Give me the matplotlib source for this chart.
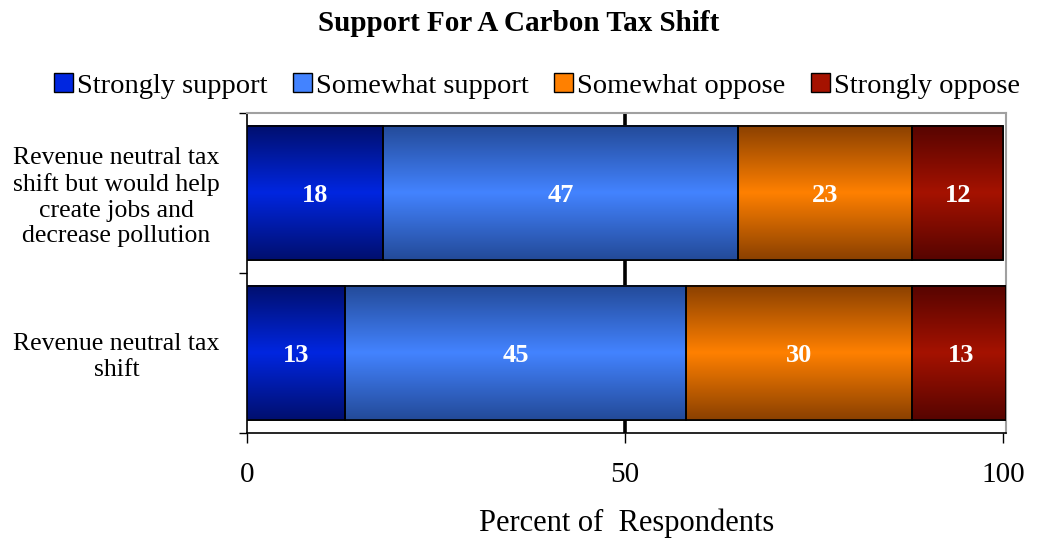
import numpy as np
import matplotlib
matplotlib.use("Agg")
import matplotlib.pyplot as plt
from matplotlib.colors import LinearSegmentedColormap
from matplotlib.patches import Patch

plt.rcParams["font.family"] = ["Liberation Serif", "DejaVu Serif"]

categories = ["Revenue neutral tax\nshift", "Revenue neutral tax\nshift but would help\ncreate jobs and\ndecrease pollution"]
series = ["Strongly support", "Somewhat support", "Somewhat oppose", "Strongly oppose"]
strongly_support = [13, 18]
somewhat_support = [45, 47]
somewhat_oppose = [30, 23]
strongly_oppose = [13, 12]
values = [strongly_support, somewhat_support, somewhat_oppose, strongly_oppose]

# (edge shade, middle shade) for the vertical gradient
shades = [("#000f6e", "#0026e0"), ("#234a98", "#4383ff"),
          ("#8a4000", "#ff8000"), ("#560400", "#a51200")]

XMAX = 100.4

fig = plt.figure(figsize=(10.37, 5.38), dpi=100)
ax = fig.add_axes([0.2382, 0.1952, 0.732, 0.595])

y = np.arange(len(categories))
bar_h = 0.84
left = np.zeros(len(categories))
grad = np.linspace(0, 1, 256).reshape(-1, 1)
for vals, (dark, mid), name in zip(values, shades, series):
    cmap = LinearSegmentedColormap.from_list(name, [dark, mid, dark])
    widths = np.minimum(left + np.array(vals), XMAX) - left
    bars = ax.barh(y, widths, left=left, height=bar_h, color=mid,
                   edgecolor="black", linewidth=1.2, zorder=3, label=name)
    for b, v, l in zip(bars, vals, left):
        x0, y0 = b.get_x(), b.get_y()
        ax.imshow(grad, cmap=cmap, aspect="auto", zorder=3.5,
                  extent=[x0, x0 + b.get_width(), y0, y0 + b.get_height()],
                  interpolation="bilinear")
        ax.add_patch(plt.Rectangle((x0, y0), b.get_width(), b.get_height(), fill=False,
                                   edgecolor="black", linewidth=1.2, zorder=4))
        ax.text(l + v / 2, y0 + b.get_height() / 2, str(v), color="white",
                ha="center", va="center_baseline", fontsize=19, fontweight="bold", zorder=5)
    left = left + np.array(vals)

ax.axvline(50, color="black", linewidth=2.6, zorder=1)

ax.set_xlim(0, XMAX)
ax.set_ylim(-0.5, len(categories) - 0.5)
ax.set_xticks([0, 50, 100])
ax.tick_params(axis="x", length=7, width=1, labelsize=21, pad=14, direction="out")
ax.set_yticks(y)
ax.set_yticklabels(categories, fontsize=18.5, linespacing=1.22, ha="center")
ax.tick_params(axis="y", length=0, pad=94)
ax.set_yticks([-0.5, 0.5, 1.5], minor=True)
ax.tick_params(axis="y", which="minor", length=6, width=1)
ax.set_xlabel("Percent of  Respondents", fontsize=22, labelpad=15)

for s in ["top", "right"]:
    ax.spines[s].set_color("#a0a0a0")
    ax.spines[s].set_linewidth(1.5)
for s in ["left", "bottom"]:
    ax.spines[s].set_color("black")
    ax.spines[s].set_linewidth(1.2)

handles = [Patch(facecolor=mid, edgecolor="black", linewidth=1) for _, mid in shades]
fig.legend(handles, series, loc="center", bbox_to_anchor=(0.518, 0.84), ncol=4,
           frameon=False, fontsize=20.5, handlelength=0.65, handleheight=0.65,
           handletextpad=0.15, columnspacing=0.9)

fig.text(0.5, 0.956, "Support For A Carbon Tax Shift", ha="center", va="center",
         fontsize=21, fontweight="bold")

fig.savefig("out.png", dpi=100)
